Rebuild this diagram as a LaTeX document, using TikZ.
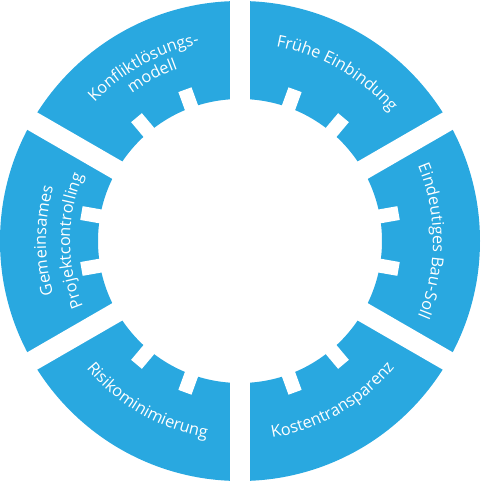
\documentclass[tikz,border=0pt]{standalone}
\usepackage{fontspec}
\setmainfont{Open Sans}
\usetikzlibrary{decorations.text}
\definecolor{ringblue}{HTML}{29A8E0}
\newcommand\ringfont{\fontsize{16.3}{16.3}\selectfont}

\begin{document}
\begin{tikzpicture}[x=1pt, y=1pt,
   gap/.style={white, line width=20pt},
   notch/.style={fill=white},
   ringtext/.style={decorate, decoration={text along path, text align=center,
      text color=white, text={|\ringfont|#1}}}]
\useasboundingbox (-240,-241) rectangle (240,241);
% ring, gaps and notches
\fill[ringblue, even odd rule] (0,0) circle[radius=240pt] circle[radius=142pt];
\foreach \a in {30,90,150}
   \draw[gap] (\a:250pt) -- (\a+180:250pt);
\foreach \a in {0,60,...,300} {
   \path[notch, rotate=\a+10] (130pt,-7pt) rectangle (161pt,7pt);
   \path[notch, rotate=\a-10] (130pt,-7pt) rectangle (161pt,7pt);
}
% labels
\path[ringtext={Frühe Einbindung}] (90:198pt) arc[start angle=90, end angle=30, radius=198pt];
\path[ringtext={Eindeutiges Bau-Soll}] (30:193pt) arc[start angle=30, end angle=-30, radius=193pt];
\path[ringtext={Kostentransparenz}] (-90:199.5pt) arc[start angle=-90, end angle=-30, radius=199.5pt];
\path[ringtext={Risikominimierung}] (-150:199.5pt) arc[start angle=-150, end angle=-90, radius=199.5pt];
\path[ringtext={Gemeinsames}] (210:194pt) arc[start angle=210, end angle=150, radius=194pt];
\path[ringtext={Projektcontrolling}] (210:170pt) arc[start angle=210, end angle=150, radius=170pt];
\path[ringtext={Konfliktlösungs-}] (149:201pt) arc[start angle=149, end angle=89, radius=201pt];
\path[ringtext={modell}] (148:183pt) arc[start angle=148, end angle=88, radius=183pt];
\end{tikzpicture}
\end{document}
